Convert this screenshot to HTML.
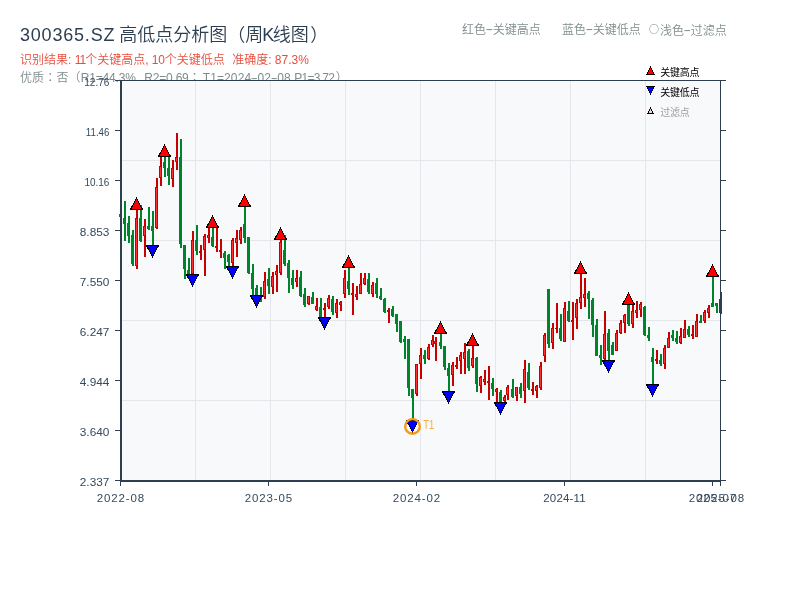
<!DOCTYPE html>
<html lang="zh-CN">
<head>
<meta charset="utf-8">
<title>300365.SZ 高低点分析图</title>
<style>
html,body{margin:0;padding:0;background:#fff;}
body{width:800px;height:600px;position:relative;overflow:hidden;font-family:"Liberation Sans","Noto Sans CJK SC",sans-serif;}
.title{position:absolute;left:20px;top:21.5px;font-weight:350;font-size:18px;line-height:26px;color:#2c3e50;white-space:nowrap;}
.title .lat{letter-spacing:0.8px;}
.sub{position:absolute;left:20px;top:51.5px;font-size:12px;line-height:16px;color:#e74c3c;white-space:nowrap;}
.sub2{position:absolute;left:20px;top:69.5px;font-size:12px;line-height:16px;color:#7f8c8d;white-space:nowrap;letter-spacing:0.12px;}
.lt{position:absolute;top:21.5px;font-size:12px;line-height:16px;color:#7f8c8d;white-space:nowrap;}
.pc{font-family:"Liberation Sans","Noto Sans CJK TC",sans-serif;}
.hy2{display:inline-block;width:6.2px;text-align:center;transform:translateY(-0.5px) scaleX(1.8);}
.hy{display:inline-block;width:6.75px;text-align:center;transform:translateY(-0.8px) scaleX(1.9);}
.cj{font-family:"Noto Sans CJK SC",sans-serif;font-size:10px;font-weight:400;margin-right:1px;vertical-align:1.2px;position:relative;top:-1.0px;}
svg{position:absolute;left:0;top:0;will-change:transform;}
.title,.sub,.sub2,.lt{will-change:transform;}
.sub,.sub2,.lt{font-weight:350;}
svg text{font-family:"Liberation Sans","Noto Sans CJK SC",sans-serif;}
.ax text{font-size:11.3px;fill:#34495e;}
.axx text{font-size:11.5px;fill:#34495e;}
.lg text{font-size:10px;}
</style>
</head>
<body>
<div class="title"><span class="lat">300365.SZ</span> <span style="margin-left:-1px">高</span>低点分析图（周<span style="margin-left:-1px;margin-right:-1.5px">K</span>线图<span style="margin-left:1.5px">）</span></div>
<div class="sub">识别结果: <span id="s11" style="letter-spacing:-1px">11</span>个关键高点, <span id="s10" style="letter-spacing:-0.25px">10</span>个关键低点&nbsp; <span id="szq" style="margin-left:0.8px">准确度: 87.3%</span></div>
<div class="sub2">优质<span class="pc" lang="zh-TW">：</span>否<span id="g0">（</span><span id="g1" style="letter-spacing:-0.15px">R1=44.3%</span>&nbsp; <span id="g2" style="letter-spacing:-0.21px;margin-left:1.6px">R2=0.69</span><span id="g3" class="pc" lang="zh-TW">；</span><span id="g4" style="margin-left:2px">T1=2024<span class="hy2">-</span>02<span class="hy2">-</span>08</span> <span id="g5" style="letter-spacing:-0.72px">P1=3.72</span><span id="g6" style="margin-left:1.5px">）</span></div>
<div class="lt" style="left:462px">红色<span class="hy">-</span>关键高点</div>
<div class="lt" style="left:561.5px">蓝色<span class="hy">-</span>关键低点</div>
<div class="lt" style="left:649px"><span class="cj">○</span>浅色<span class="hy">-</span>过滤点</div>
<svg width="800" height="600" viewBox="0 0 800 600">
<rect x="120" y="80" width="601" height="401" fill="#f8f9fb"/>
<g shape-rendering="crispEdges">
<rect x="195" y="81" width="1" height="399" fill="#e4e6eb"/>
<rect x="270" y="81" width="1" height="399" fill="#e4e6eb"/>
<rect x="345" y="81" width="1" height="399" fill="#e4e6eb"/>
<rect x="420" y="81" width="1" height="399" fill="#e4e6eb"/>
<rect x="495" y="81" width="1" height="399" fill="#e4e6eb"/>
<rect x="570" y="81" width="1" height="399" fill="#e4e6eb"/>
<rect x="645" y="81" width="1" height="399" fill="#e4e6eb"/>
<rect x="122" y="160" width="598" height="1" fill="#e4e6eb"/>
<rect x="122" y="240" width="598" height="1" fill="#e4e6eb"/>
<rect x="122" y="320" width="598" height="1" fill="#e4e6eb"/>
<rect x="122" y="400" width="598" height="1" fill="#e4e6eb"/>
</g>
<clipPath id="cl"><rect x="0" y="78" width="800" height="522"/></clipPath>
<g class="ax" clip-path="url(#cl)">
<text x="84.2" y="86" textLength="25.2" lengthAdjust="spacingAndGlyphs">12.76</text>
<text x="85.8" y="136" textLength="23.6" lengthAdjust="spacingAndGlyphs">11.46</text>
<text x="84.4" y="186" textLength="25.0" lengthAdjust="spacingAndGlyphs">10.16</text>
<text x="79.8" y="236" textLength="29.6" lengthAdjust="spacingAndGlyphs">8.853</text>
<text x="79.8" y="286" textLength="29.6" lengthAdjust="spacingAndGlyphs">7.550</text>
<text x="79.8" y="336" textLength="29.6" lengthAdjust="spacingAndGlyphs">6.247</text>
<text x="79.8" y="386" textLength="29.6" lengthAdjust="spacingAndGlyphs">4.944</text>
<text x="79.8" y="436" textLength="29.6" lengthAdjust="spacingAndGlyphs">3.640</text>
<text x="79.8" y="486" textLength="29.6" lengthAdjust="spacingAndGlyphs">2.337</text>
</g>
<g shape-rendering="crispEdges">
<rect x="120" y="214" width="2" height="3" fill="#00842b"/>
<rect x="119" y="214" width="3" height="3" fill="#00842b"/>
<rect x="124" y="201" width="2" height="40" fill="#00842b"/>
<rect x="123" y="218" width="3" height="6" fill="#00842b"/>
<rect x="128" y="216" width="2" height="27" fill="#00842b"/>
<rect x="127" y="223" width="3" height="13" fill="#00842b"/>
<rect x="132" y="230" width="2" height="36" fill="#00842b"/>
<rect x="131" y="235" width="3" height="29" fill="#00842b"/>
<rect x="136" y="209" width="2" height="60" fill="#c80000"/>
<rect x="135" y="218" width="3" height="48" fill="#c80000"/>
<rect x="136" y="219" width="1" height="46" fill="#ff3030"/>
<rect x="140" y="205" width="2" height="37" fill="#00842b"/>
<rect x="139" y="218" width="3" height="23" fill="#00842b"/>
<rect x="144" y="219" width="2" height="38" fill="#c80000"/>
<rect x="143" y="226" width="3" height="10" fill="#c80000"/>
<rect x="144" y="227" width="1" height="8" fill="#ff3030"/>
<rect x="148" y="207" width="2" height="23" fill="#00842b"/>
<rect x="147" y="226" width="3" height="3" fill="#00842b"/>
<rect x="152" y="211" width="2" height="35" fill="#00842b"/>
<rect x="151" y="226" width="3" height="5" fill="#00842b"/>
<rect x="156" y="178" width="2" height="51" fill="#c80000"/>
<rect x="155" y="187" width="3" height="41" fill="#c80000"/>
<rect x="156" y="188" width="1" height="39" fill="#ff3030"/>
<rect x="160" y="156" width="2" height="30" fill="#c80000"/>
<rect x="159" y="166" width="3" height="12" fill="#c80000"/>
<rect x="160" y="167" width="1" height="10" fill="#ff3030"/>
<rect x="164" y="156" width="2" height="21" fill="#00842b"/>
<rect x="163" y="162" width="3" height="6" fill="#00842b"/>
<rect x="168" y="156" width="2" height="29" fill="#00842b"/>
<rect x="167" y="168" width="3" height="8" fill="#00842b"/>
<rect x="172" y="160" width="2" height="27" fill="#c80000"/>
<rect x="171" y="168" width="3" height="11" fill="#c80000"/>
<rect x="172" y="169" width="1" height="9" fill="#ff3030"/>
<rect x="176" y="133" width="2" height="37" fill="#c80000"/>
<rect x="175" y="157" width="3" height="5" fill="#c80000"/>
<rect x="176" y="158" width="1" height="3" fill="#ff3030"/>
<rect x="180" y="139" width="2" height="109" fill="#00842b"/>
<rect x="179" y="157" width="3" height="87" fill="#00842b"/>
<rect x="184" y="245" width="2" height="34" fill="#00842b"/>
<rect x="183" y="245" width="3" height="24" fill="#00842b"/>
<rect x="188" y="258" width="2" height="16" fill="#00842b"/>
<rect x="187" y="270" width="3" height="4" fill="#00842b"/>
<rect x="192" y="231" width="2" height="43" fill="#c80000"/>
<rect x="191" y="240" width="3" height="34" fill="#c80000"/>
<rect x="192" y="241" width="1" height="32" fill="#ff3030"/>
<rect x="196" y="225" width="2" height="30" fill="#00842b"/>
<rect x="195" y="240" width="3" height="11" fill="#00842b"/>
<rect x="200" y="245" width="2" height="15" fill="#c80000"/>
<rect x="199" y="251" width="3" height="2" fill="#c80000"/>
<rect x="204" y="234" width="2" height="42" fill="#c80000"/>
<rect x="203" y="236" width="3" height="14" fill="#c80000"/>
<rect x="204" y="237" width="1" height="12" fill="#ff3030"/>
<rect x="208" y="227" width="2" height="16" fill="#c80000"/>
<rect x="207" y="235" width="3" height="3" fill="#c80000"/>
<rect x="208" y="236" width="1" height="1" fill="#ff3030"/>
<rect x="212" y="227" width="2" height="20" fill="#00842b"/>
<rect x="211" y="237" width="3" height="9" fill="#00842b"/>
<rect x="216" y="227" width="2" height="25" fill="#c80000"/>
<rect x="215" y="246" width="3" height="2" fill="#c80000"/>
<rect x="220" y="239" width="2" height="19" fill="#c80000"/>
<rect x="219" y="250" width="3" height="2" fill="#c80000"/>
<rect x="224" y="251" width="2" height="18" fill="#00842b"/>
<rect x="223" y="253" width="3" height="5" fill="#00842b"/>
<rect x="228" y="254" width="2" height="12" fill="#00842b"/>
<rect x="227" y="255" width="3" height="7" fill="#00842b"/>
<rect x="232" y="238" width="2" height="28" fill="#c80000"/>
<rect x="231" y="240" width="3" height="23" fill="#c80000"/>
<rect x="232" y="241" width="1" height="21" fill="#ff3030"/>
<rect x="236" y="230" width="2" height="27" fill="#c80000"/>
<rect x="235" y="238" width="3" height="5" fill="#c80000"/>
<rect x="236" y="239" width="1" height="3" fill="#ff3030"/>
<rect x="240" y="227" width="2" height="17" fill="#c80000"/>
<rect x="239" y="230" width="3" height="10" fill="#c80000"/>
<rect x="240" y="231" width="1" height="8" fill="#ff3030"/>
<rect x="244" y="206" width="2" height="37" fill="#00842b"/>
<rect x="243" y="224" width="3" height="14" fill="#00842b"/>
<rect x="248" y="237" width="2" height="37" fill="#00842b"/>
<rect x="247" y="237" width="3" height="36" fill="#00842b"/>
<rect x="252" y="264" width="2" height="31" fill="#00842b"/>
<rect x="251" y="273" width="3" height="16" fill="#00842b"/>
<rect x="256" y="285" width="2" height="10" fill="#00842b"/>
<rect x="255" y="288" width="3" height="7" fill="#00842b"/>
<rect x="260" y="287" width="2" height="15" fill="#00842b"/>
<rect x="259" y="295" width="3" height="6" fill="#00842b"/>
<rect x="264" y="272" width="2" height="27" fill="#c80000"/>
<rect x="263" y="281" width="3" height="16" fill="#c80000"/>
<rect x="264" y="282" width="1" height="14" fill="#ff3030"/>
<rect x="268" y="268" width="2" height="26" fill="#00842b"/>
<rect x="267" y="279" width="3" height="7" fill="#00842b"/>
<rect x="272" y="272" width="2" height="22" fill="#c80000"/>
<rect x="271" y="276" width="3" height="11" fill="#c80000"/>
<rect x="272" y="277" width="1" height="9" fill="#ff3030"/>
<rect x="276" y="265" width="2" height="27" fill="#c80000"/>
<rect x="275" y="271" width="3" height="4" fill="#c80000"/>
<rect x="276" y="272" width="1" height="2" fill="#ff3030"/>
<rect x="280" y="239" width="2" height="36" fill="#c80000"/>
<rect x="279" y="242" width="3" height="31" fill="#c80000"/>
<rect x="280" y="243" width="1" height="29" fill="#ff3030"/>
<rect x="284" y="235" width="2" height="31" fill="#00842b"/>
<rect x="283" y="250" width="3" height="14" fill="#00842b"/>
<rect x="288" y="260" width="2" height="33" fill="#00842b"/>
<rect x="287" y="263" width="3" height="15" fill="#00842b"/>
<rect x="292" y="270" width="2" height="19" fill="#00842b"/>
<rect x="291" y="278" width="3" height="7" fill="#00842b"/>
<rect x="296" y="270" width="2" height="17" fill="#c80000"/>
<rect x="295" y="278" width="3" height="4" fill="#c80000"/>
<rect x="296" y="279" width="1" height="2" fill="#ff3030"/>
<rect x="300" y="271" width="2" height="26" fill="#00842b"/>
<rect x="299" y="277" width="3" height="19" fill="#00842b"/>
<rect x="304" y="288" width="2" height="19" fill="#00842b"/>
<rect x="303" y="294" width="3" height="11" fill="#00842b"/>
<rect x="308" y="296" width="2" height="9" fill="#c80000"/>
<rect x="307" y="296" width="3" height="8" fill="#c80000"/>
<rect x="308" y="297" width="1" height="6" fill="#ff3030"/>
<rect x="312" y="292" width="2" height="12" fill="#00842b"/>
<rect x="311" y="297" width="3" height="7" fill="#00842b"/>
<rect x="316" y="298" width="2" height="13" fill="#c80000"/>
<rect x="315" y="306" width="3" height="4" fill="#c80000"/>
<rect x="316" y="307" width="1" height="2" fill="#ff3030"/>
<rect x="320" y="298" width="2" height="20" fill="#00842b"/>
<rect x="319" y="307" width="3" height="11" fill="#00842b"/>
<rect x="324" y="303" width="2" height="15" fill="#c80000"/>
<rect x="323" y="308" width="3" height="2" fill="#c80000"/>
<rect x="328" y="295" width="2" height="14" fill="#c80000"/>
<rect x="327" y="298" width="3" height="9" fill="#c80000"/>
<rect x="328" y="299" width="1" height="7" fill="#ff3030"/>
<rect x="332" y="296" width="2" height="19" fill="#00842b"/>
<rect x="331" y="299" width="3" height="13" fill="#00842b"/>
<rect x="336" y="299" width="2" height="19" fill="#c80000"/>
<rect x="335" y="303" width="3" height="10" fill="#c80000"/>
<rect x="336" y="304" width="1" height="8" fill="#ff3030"/>
<rect x="340" y="301" width="2" height="10" fill="#c80000"/>
<rect x="339" y="302" width="3" height="3" fill="#c80000"/>
<rect x="340" y="303" width="1" height="1" fill="#ff3030"/>
<rect x="344" y="270" width="2" height="28" fill="#c80000"/>
<rect x="343" y="278" width="3" height="16" fill="#c80000"/>
<rect x="344" y="279" width="1" height="14" fill="#ff3030"/>
<rect x="348" y="267" width="2" height="28" fill="#00842b"/>
<rect x="347" y="281" width="3" height="8" fill="#00842b"/>
<rect x="352" y="283" width="2" height="32" fill="#c80000"/>
<rect x="351" y="293" width="3" height="2" fill="#c80000"/>
<rect x="356" y="286" width="2" height="14" fill="#c80000"/>
<rect x="355" y="294" width="3" height="3" fill="#c80000"/>
<rect x="356" y="295" width="1" height="1" fill="#ff3030"/>
<rect x="360" y="273" width="2" height="21" fill="#c80000"/>
<rect x="359" y="284" width="3" height="10" fill="#c80000"/>
<rect x="360" y="285" width="1" height="8" fill="#ff3030"/>
<rect x="364" y="273" width="2" height="12" fill="#c80000"/>
<rect x="363" y="278" width="3" height="6" fill="#c80000"/>
<rect x="364" y="279" width="1" height="4" fill="#ff3030"/>
<rect x="368" y="273" width="2" height="21" fill="#00842b"/>
<rect x="367" y="279" width="3" height="13" fill="#00842b"/>
<rect x="372" y="282" width="2" height="15" fill="#c80000"/>
<rect x="371" y="285" width="3" height="9" fill="#c80000"/>
<rect x="372" y="286" width="1" height="7" fill="#ff3030"/>
<rect x="376" y="278" width="2" height="20" fill="#00842b"/>
<rect x="375" y="283" width="3" height="11" fill="#00842b"/>
<rect x="380" y="288" width="2" height="12" fill="#00842b"/>
<rect x="379" y="296" width="3" height="3" fill="#00842b"/>
<rect x="384" y="298" width="2" height="15" fill="#00842b"/>
<rect x="383" y="299" width="3" height="13" fill="#00842b"/>
<rect x="388" y="308" width="2" height="15" fill="#c80000"/>
<rect x="387" y="310" width="3" height="2" fill="#c80000"/>
<rect x="392" y="306" width="2" height="11" fill="#00842b"/>
<rect x="391" y="309" width="3" height="7" fill="#00842b"/>
<rect x="396" y="314" width="2" height="18" fill="#00842b"/>
<rect x="395" y="314" width="3" height="10" fill="#00842b"/>
<rect x="400" y="321" width="2" height="22" fill="#00842b"/>
<rect x="399" y="321" width="3" height="21" fill="#00842b"/>
<rect x="404" y="336" width="2" height="23" fill="#00842b"/>
<rect x="403" y="339" width="3" height="3" fill="#00842b"/>
<rect x="408" y="339" width="2" height="57" fill="#00842b"/>
<rect x="407" y="339" width="3" height="49" fill="#00842b"/>
<rect x="412" y="389" width="2" height="31" fill="#00842b"/>
<rect x="411" y="389" width="3" height="9" fill="#00842b"/>
<rect x="416" y="364" width="2" height="32" fill="#c80000"/>
<rect x="415" y="364" width="3" height="30" fill="#c80000"/>
<rect x="416" y="365" width="1" height="28" fill="#ff3030"/>
<rect x="420" y="348" width="2" height="31" fill="#c80000"/>
<rect x="419" y="355" width="3" height="9" fill="#c80000"/>
<rect x="420" y="356" width="1" height="7" fill="#ff3030"/>
<rect x="424" y="350" width="2" height="14" fill="#00842b"/>
<rect x="423" y="355" width="3" height="4" fill="#00842b"/>
<rect x="428" y="344" width="2" height="16" fill="#c80000"/>
<rect x="427" y="347" width="3" height="12" fill="#c80000"/>
<rect x="428" y="348" width="1" height="10" fill="#ff3030"/>
<rect x="432" y="335" width="2" height="12" fill="#c80000"/>
<rect x="431" y="340" width="3" height="5" fill="#c80000"/>
<rect x="432" y="341" width="1" height="3" fill="#ff3030"/>
<rect x="435" y="337" width="2" height="24" fill="#c80000"/>
<rect x="434" y="341" width="3" height="3" fill="#c80000"/>
<rect x="435" y="342" width="1" height="1" fill="#ff3030"/>
<rect x="440" y="333" width="2" height="16" fill="#00842b"/>
<rect x="439" y="342" width="3" height="4" fill="#00842b"/>
<rect x="444" y="346" width="2" height="24" fill="#00842b"/>
<rect x="443" y="346" width="3" height="21" fill="#00842b"/>
<rect x="448" y="363" width="2" height="28" fill="#00842b"/>
<rect x="447" y="368" width="3" height="8" fill="#00842b"/>
<rect x="452" y="362" width="2" height="24" fill="#c80000"/>
<rect x="451" y="365" width="3" height="10" fill="#c80000"/>
<rect x="452" y="366" width="1" height="8" fill="#ff3030"/>
<rect x="456" y="357" width="2" height="12" fill="#c80000"/>
<rect x="455" y="365" width="3" height="2" fill="#c80000"/>
<rect x="460" y="352" width="2" height="22" fill="#c80000"/>
<rect x="459" y="355" width="3" height="6" fill="#c80000"/>
<rect x="460" y="356" width="1" height="4" fill="#ff3030"/>
<rect x="464" y="343" width="2" height="31" fill="#c80000"/>
<rect x="463" y="352" width="3" height="7" fill="#c80000"/>
<rect x="464" y="353" width="1" height="5" fill="#ff3030"/>
<rect x="468" y="349" width="2" height="22" fill="#00842b"/>
<rect x="467" y="351" width="3" height="17" fill="#00842b"/>
<rect x="472" y="345" width="2" height="23" fill="#c80000"/>
<rect x="471" y="358" width="3" height="8" fill="#c80000"/>
<rect x="472" y="359" width="1" height="6" fill="#ff3030"/>
<rect x="476" y="357" width="2" height="35" fill="#00842b"/>
<rect x="475" y="358" width="3" height="26" fill="#00842b"/>
<rect x="480" y="376" width="2" height="17" fill="#c80000"/>
<rect x="479" y="377" width="3" height="9" fill="#c80000"/>
<rect x="480" y="378" width="1" height="7" fill="#ff3030"/>
<rect x="484" y="370" width="2" height="15" fill="#c80000"/>
<rect x="483" y="379" width="3" height="3" fill="#c80000"/>
<rect x="484" y="380" width="1" height="1" fill="#ff3030"/>
<rect x="488" y="366" width="2" height="34" fill="#c80000"/>
<rect x="487" y="381" width="3" height="2" fill="#c80000"/>
<rect x="492" y="378" width="2" height="18" fill="#00842b"/>
<rect x="491" y="383" width="3" height="6" fill="#00842b"/>
<rect x="496" y="388" width="2" height="14" fill="#c80000"/>
<rect x="495" y="389" width="3" height="3" fill="#c80000"/>
<rect x="496" y="390" width="1" height="1" fill="#ff3030"/>
<rect x="500" y="390" width="2" height="12" fill="#00842b"/>
<rect x="499" y="392" width="3" height="10" fill="#00842b"/>
<rect x="504" y="395" width="2" height="8" fill="#c80000"/>
<rect x="503" y="397" width="3" height="4" fill="#c80000"/>
<rect x="504" y="398" width="1" height="2" fill="#ff3030"/>
<rect x="507" y="385" width="2" height="15" fill="#c80000"/>
<rect x="506" y="387" width="3" height="8" fill="#c80000"/>
<rect x="507" y="388" width="1" height="6" fill="#ff3030"/>
<rect x="512" y="379" width="2" height="19" fill="#00842b"/>
<rect x="511" y="389" width="3" height="8" fill="#00842b"/>
<rect x="516" y="387" width="2" height="14" fill="#c80000"/>
<rect x="515" y="387" width="3" height="9" fill="#c80000"/>
<rect x="516" y="388" width="1" height="7" fill="#ff3030"/>
<rect x="520" y="383" width="2" height="15" fill="#00842b"/>
<rect x="519" y="387" width="3" height="7" fill="#00842b"/>
<rect x="524" y="360" width="2" height="43" fill="#c80000"/>
<rect x="523" y="369" width="3" height="22" fill="#c80000"/>
<rect x="524" y="370" width="1" height="20" fill="#ff3030"/>
<rect x="528" y="363" width="2" height="27" fill="#00842b"/>
<rect x="527" y="372" width="3" height="16" fill="#00842b"/>
<rect x="532" y="382" width="2" height="13" fill="#c80000"/>
<rect x="531" y="389" width="3" height="2" fill="#c80000"/>
<rect x="536" y="385" width="2" height="13" fill="#c80000"/>
<rect x="535" y="386" width="3" height="5" fill="#c80000"/>
<rect x="536" y="387" width="1" height="3" fill="#ff3030"/>
<rect x="540" y="362" width="2" height="28" fill="#c80000"/>
<rect x="539" y="366" width="3" height="22" fill="#c80000"/>
<rect x="540" y="367" width="1" height="20" fill="#ff3030"/>
<rect x="544" y="333" width="2" height="29" fill="#c80000"/>
<rect x="543" y="335" width="3" height="21" fill="#c80000"/>
<rect x="544" y="336" width="1" height="19" fill="#ff3030"/>
<rect x="548" y="289" width="2" height="59" fill="#00842b"/>
<rect x="547" y="289" width="3" height="55" fill="#00842b"/>
<rect x="552" y="323" width="2" height="26" fill="#c80000"/>
<rect x="551" y="328" width="3" height="15" fill="#c80000"/>
<rect x="552" y="329" width="1" height="13" fill="#ff3030"/>
<rect x="556" y="303" width="2" height="30" fill="#c80000"/>
<rect x="555" y="328" width="3" height="1" fill="#c80000"/>
<rect x="560" y="314" width="2" height="27" fill="#00842b"/>
<rect x="559" y="328" width="3" height="11" fill="#00842b"/>
<rect x="564" y="302" width="2" height="40" fill="#c80000"/>
<rect x="563" y="308" width="3" height="34" fill="#c80000"/>
<rect x="564" y="309" width="1" height="32" fill="#ff3030"/>
<rect x="568" y="301" width="2" height="21" fill="#00842b"/>
<rect x="567" y="311" width="3" height="10" fill="#00842b"/>
<rect x="572" y="302" width="2" height="38" fill="#c80000"/>
<rect x="571" y="320" width="3" height="2" fill="#c80000"/>
<rect x="576" y="299" width="2" height="30" fill="#c80000"/>
<rect x="575" y="303" width="3" height="15" fill="#c80000"/>
<rect x="576" y="304" width="1" height="13" fill="#ff3030"/>
<rect x="580" y="273" width="2" height="36" fill="#c80000"/>
<rect x="579" y="297" width="3" height="6" fill="#c80000"/>
<rect x="580" y="298" width="1" height="4" fill="#ff3030"/>
<rect x="584" y="278" width="2" height="29" fill="#c80000"/>
<rect x="583" y="294" width="3" height="4" fill="#c80000"/>
<rect x="584" y="295" width="1" height="2" fill="#ff3030"/>
<rect x="588" y="291" width="2" height="28" fill="#00842b"/>
<rect x="587" y="293" width="3" height="6" fill="#00842b"/>
<rect x="592" y="298" width="2" height="39" fill="#00842b"/>
<rect x="591" y="300" width="3" height="25" fill="#00842b"/>
<rect x="596" y="319" width="2" height="37" fill="#00842b"/>
<rect x="595" y="325" width="3" height="31" fill="#00842b"/>
<rect x="600" y="345" width="2" height="20" fill="#00842b"/>
<rect x="599" y="355" width="3" height="3" fill="#00842b"/>
<rect x="604" y="311" width="2" height="55" fill="#c80000"/>
<rect x="603" y="334" width="3" height="25" fill="#c80000"/>
<rect x="604" y="335" width="1" height="23" fill="#ff3030"/>
<rect x="608" y="329" width="2" height="31" fill="#00842b"/>
<rect x="607" y="333" width="3" height="18" fill="#00842b"/>
<rect x="612" y="342" width="2" height="13" fill="#00842b"/>
<rect x="611" y="345" width="3" height="10" fill="#00842b"/>
<rect x="616" y="330" width="2" height="21" fill="#c80000"/>
<rect x="615" y="333" width="3" height="18" fill="#c80000"/>
<rect x="616" y="334" width="1" height="16" fill="#ff3030"/>
<rect x="620" y="320" width="2" height="14" fill="#c80000"/>
<rect x="619" y="323" width="3" height="10" fill="#c80000"/>
<rect x="620" y="324" width="1" height="8" fill="#ff3030"/>
<rect x="624" y="314" width="2" height="19" fill="#c80000"/>
<rect x="623" y="315" width="3" height="8" fill="#c80000"/>
<rect x="624" y="316" width="1" height="6" fill="#ff3030"/>
<rect x="628" y="304" width="2" height="22" fill="#00842b"/>
<rect x="627" y="305" width="3" height="19" fill="#00842b"/>
<rect x="632" y="305" width="2" height="23" fill="#c80000"/>
<rect x="631" y="311" width="3" height="13" fill="#c80000"/>
<rect x="632" y="312" width="1" height="11" fill="#ff3030"/>
<rect x="636" y="301" width="2" height="17" fill="#c80000"/>
<rect x="635" y="310" width="3" height="3" fill="#c80000"/>
<rect x="636" y="311" width="1" height="1" fill="#ff3030"/>
<rect x="640" y="302" width="2" height="15" fill="#c80000"/>
<rect x="639" y="304" width="3" height="6" fill="#c80000"/>
<rect x="640" y="305" width="1" height="4" fill="#ff3030"/>
<rect x="644" y="306" width="2" height="30" fill="#00842b"/>
<rect x="643" y="307" width="3" height="28" fill="#00842b"/>
<rect x="648" y="327" width="2" height="14" fill="#00842b"/>
<rect x="647" y="335" width="3" height="3" fill="#00842b"/>
<rect x="652" y="348" width="2" height="36" fill="#00842b"/>
<rect x="651" y="357" width="3" height="5" fill="#00842b"/>
<rect x="656" y="350" width="2" height="14" fill="#c80000"/>
<rect x="655" y="359" width="3" height="2" fill="#c80000"/>
<rect x="660" y="354" width="2" height="12" fill="#00842b"/>
<rect x="659" y="360" width="3" height="4" fill="#00842b"/>
<rect x="664" y="345" width="2" height="24" fill="#c80000"/>
<rect x="663" y="348" width="3" height="16" fill="#c80000"/>
<rect x="664" y="349" width="1" height="14" fill="#ff3030"/>
<rect x="668" y="332" width="2" height="16" fill="#c80000"/>
<rect x="667" y="338" width="3" height="10" fill="#c80000"/>
<rect x="668" y="339" width="1" height="8" fill="#ff3030"/>
<rect x="672" y="330" width="2" height="11" fill="#00842b"/>
<rect x="671" y="335" width="3" height="3" fill="#00842b"/>
<rect x="676" y="331" width="2" height="13" fill="#00842b"/>
<rect x="675" y="338" width="3" height="4" fill="#00842b"/>
<rect x="680" y="328" width="2" height="16" fill="#c80000"/>
<rect x="679" y="336" width="3" height="7" fill="#c80000"/>
<rect x="680" y="337" width="1" height="5" fill="#ff3030"/>
<rect x="684" y="320" width="2" height="18" fill="#c80000"/>
<rect x="683" y="329" width="3" height="9" fill="#c80000"/>
<rect x="684" y="330" width="1" height="7" fill="#ff3030"/>
<rect x="688" y="326" width="2" height="11" fill="#00842b"/>
<rect x="687" y="329" width="3" height="6" fill="#00842b"/>
<rect x="692" y="325" width="2" height="14" fill="#c80000"/>
<rect x="691" y="334" width="3" height="2" fill="#c80000"/>
<rect x="696" y="314" width="2" height="23" fill="#c80000"/>
<rect x="695" y="321" width="3" height="16" fill="#c80000"/>
<rect x="696" y="322" width="1" height="14" fill="#ff3030"/>
<rect x="700" y="315" width="2" height="8" fill="#00842b"/>
<rect x="699" y="321" width="3" height="2" fill="#00842b"/>
<rect x="704" y="310" width="2" height="13" fill="#c80000"/>
<rect x="703" y="312" width="3" height="9" fill="#c80000"/>
<rect x="704" y="313" width="1" height="7" fill="#ff3030"/>
<rect x="708" y="305" width="2" height="13" fill="#c80000"/>
<rect x="707" y="308" width="3" height="5" fill="#c80000"/>
<rect x="708" y="309" width="1" height="3" fill="#ff3030"/>
<rect x="712" y="276" width="2" height="31" fill="#00842b"/>
<rect x="711" y="303" width="3" height="4" fill="#00842b"/>
<rect x="716" y="303" width="2" height="10" fill="#00842b"/>
<rect x="715" y="303" width="3" height="3" fill="#00842b"/>
<rect x="720" y="292" width="2" height="22" fill="#c80000"/>
<rect x="719" y="299" width="3" height="14" fill="#c80000"/>
<rect x="720" y="300" width="1" height="12" fill="#ff3030"/>
</g>
<g shape-rendering="crispEdges">
<rect x="120" y="80" width="2" height="402" fill="#2c3e50"/>
<rect x="120" y="480" width="601" height="2" fill="#2c3e50"/>
<rect x="120" y="80" width="601" height="1" fill="#2c3e50"/>
<rect x="720" y="80" width="1" height="402" fill="#2c3e50"/>
<rect x="115" y="80" width="5" height="1" fill="#2c3e50"/>
<rect x="721" y="80" width="5" height="1" fill="#2c3e50"/>
<rect x="115" y="130" width="5" height="1" fill="#2c3e50"/>
<rect x="721" y="130" width="5" height="1" fill="#2c3e50"/>
<rect x="115" y="180" width="5" height="1" fill="#2c3e50"/>
<rect x="721" y="180" width="5" height="1" fill="#2c3e50"/>
<rect x="115" y="230" width="5" height="1" fill="#2c3e50"/>
<rect x="721" y="230" width="5" height="1" fill="#2c3e50"/>
<rect x="115" y="280" width="5" height="1" fill="#2c3e50"/>
<rect x="721" y="280" width="5" height="1" fill="#2c3e50"/>
<rect x="115" y="330" width="5" height="1" fill="#2c3e50"/>
<rect x="721" y="330" width="5" height="1" fill="#2c3e50"/>
<rect x="115" y="380" width="5" height="1" fill="#2c3e50"/>
<rect x="721" y="380" width="5" height="1" fill="#2c3e50"/>
<rect x="115" y="430" width="5" height="1" fill="#2c3e50"/>
<rect x="721" y="430" width="5" height="1" fill="#2c3e50"/>
<rect x="115" y="480" width="5" height="1" fill="#2c3e50"/>
<rect x="721" y="480" width="5" height="1" fill="#2c3e50"/>
<rect x="120" y="482" width="1" height="4" fill="#2c3e50"/>
<rect x="268" y="482" width="1" height="4" fill="#2c3e50"/>
<rect x="416" y="482" width="1" height="4" fill="#2c3e50"/>
<rect x="564" y="482" width="1" height="4" fill="#2c3e50"/>
<rect x="712" y="482" width="1" height="4" fill="#2c3e50"/>
<rect x="720" y="482" width="1" height="4" fill="#2c3e50"/>
</g>
<g class="axx">
<text x="96.75" y="502.3" textLength="47.5" lengthAdjust="spacing">2022-08</text>
<text x="244.75" y="502.3" textLength="47.5" lengthAdjust="spacing">2023-05</text>
<text x="392.75" y="502.3" textLength="47.5" lengthAdjust="spacing">2024-02</text>
<text x="543.25" y="502.3" textLength="42.5" lengthAdjust="spacing">2024-11</text>
<text x="688.75" y="502.3" textLength="47.5" lengthAdjust="spacing">2025-07</text>
<text x="696.75" y="502.3" textLength="47.5" lengthAdjust="spacing">2025-08</text>
</g>
<g>
<polygon points="130.5,209.5 142.5,209.5 136.5,198" fill="#ff0000" stroke="#000" stroke-width="1" shape-rendering="crispEdges"/>
<polygon points="158.5,156.5 170.5,156.5 164.5,145" fill="#ff0000" stroke="#000" stroke-width="1" shape-rendering="crispEdges"/>
<polygon points="206.5,227.5 218.5,227.5 212.5,216" fill="#ff0000" stroke="#000" stroke-width="1" shape-rendering="crispEdges"/>
<polygon points="238.5,206.5 250.5,206.5 244.5,195" fill="#ff0000" stroke="#000" stroke-width="1" shape-rendering="crispEdges"/>
<polygon points="274.5,239.5 286.5,239.5 280.5,228" fill="#ff0000" stroke="#000" stroke-width="1" shape-rendering="crispEdges"/>
<polygon points="342.5,267.5 354.5,267.5 348.5,256" fill="#ff0000" stroke="#000" stroke-width="1" shape-rendering="crispEdges"/>
<polygon points="434.5,333.5 446.5,333.5 440.5,322" fill="#ff0000" stroke="#000" stroke-width="1" shape-rendering="crispEdges"/>
<polygon points="466.5,345.5 478.5,345.5 472.5,334" fill="#ff0000" stroke="#000" stroke-width="1" shape-rendering="crispEdges"/>
<polygon points="574.5,273.5 586.5,273.5 580.5,262" fill="#ff0000" stroke="#000" stroke-width="1" shape-rendering="crispEdges"/>
<polygon points="622.5,304.5 634.5,304.5 628.5,293" fill="#ff0000" stroke="#000" stroke-width="1" shape-rendering="crispEdges"/>
<polygon points="706.5,276.5 718.5,276.5 712.5,265" fill="#ff0000" stroke="#000" stroke-width="1" shape-rendering="crispEdges"/>
<polygon points="146.5,245.5 158.5,245.5 152.5,257" fill="#0000ff" stroke="#000" stroke-width="1" shape-rendering="crispEdges"/>
<polygon points="186.5,274.5 198.5,274.5 192.5,286" fill="#0000ff" stroke="#000" stroke-width="1" shape-rendering="crispEdges"/>
<polygon points="226.5,266.5 238.5,266.5 232.5,278" fill="#0000ff" stroke="#000" stroke-width="1" shape-rendering="crispEdges"/>
<polygon points="250.5,295.5 262.5,295.5 256.5,307" fill="#0000ff" stroke="#000" stroke-width="1" shape-rendering="crispEdges"/>
<polygon points="318.5,317.5 330.5,317.5 324.5,329" fill="#0000ff" stroke="#000" stroke-width="1" shape-rendering="crispEdges"/>
<polygon points="406.5,420.5 418.5,420.5 412.5,432" fill="#0000ff" stroke="#000" stroke-width="1" shape-rendering="crispEdges"/>
<polygon points="442.5,391.5 454.5,391.5 448.5,403" fill="#0000ff" stroke="#000" stroke-width="1" shape-rendering="crispEdges"/>
<polygon points="494.5,402.5 506.5,402.5 500.5,414" fill="#0000ff" stroke="#000" stroke-width="1" shape-rendering="crispEdges"/>
<polygon points="602.5,360.5 614.5,360.5 608.5,372" fill="#0000ff" stroke="#000" stroke-width="1" shape-rendering="crispEdges"/>
<polygon points="646.5,384.5 658.5,384.5 652.5,396" fill="#0000ff" stroke="#000" stroke-width="1" shape-rendering="crispEdges"/>
</g>
<circle cx="412.5" cy="426.4" r="7.3" fill="none" stroke="#f39c12" stroke-width="2.4"/>
<text x="423.2" y="428.9" font-size="12" fill="#f5ad42" textLength="11" lengthAdjust="spacingAndGlyphs">T1</text>
<g class="lg">
<g shape-rendering="crispEdges">
<polygon points="645.9,75 655.1,75 650.5,65.8" fill="#000"/>
<polygon points="647.3,74 653.7,74 650.5,67.6" fill="#ff0000"/>
<polygon points="645.9,86 655.1,86 650.5,95.2" fill="#000"/>
<polygon points="647.3,87 653.7,87 650.5,93.4" fill="#0000ff"/>
<polygon points="646.9,114 654.1,114 650.5,106.8" fill="#000"/>
<polygon points="648.3,113 652.7,113 650.5,108.6" fill="#ffd0d0"/>
</g>
<text x="660.3" y="76" fill="#000" textLength="39.2" lengthAdjust="spacing">关键高点</text>
<text x="660.3" y="95.6" fill="#000" textLength="39.2" lengthAdjust="spacing">关键低点</text>
<text x="660.3" y="115.5" fill="#a0a0a0" textLength="29.4" lengthAdjust="spacing">过滤点</text>
</g>
</svg>
</body>
</html>
